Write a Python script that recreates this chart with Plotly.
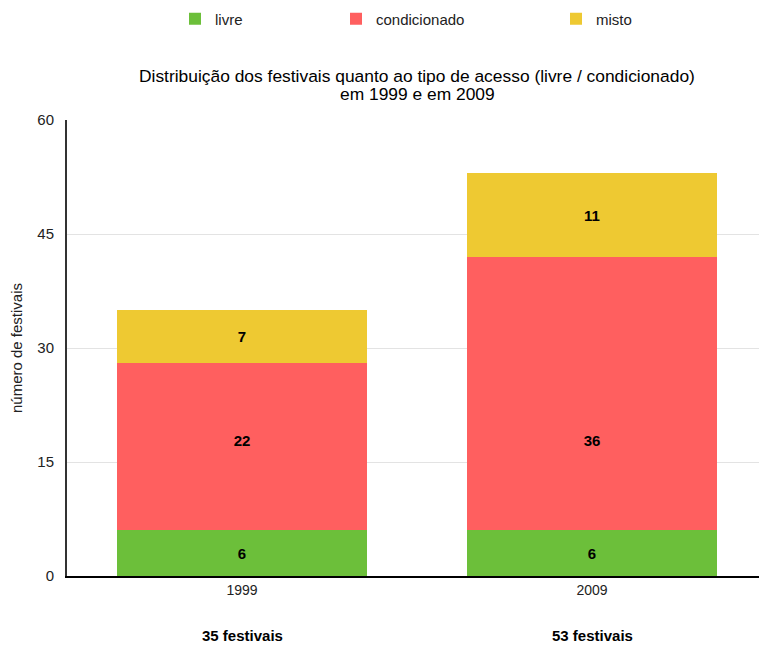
import plotly.graph_objects as go

years = ["1999", "2009"]
livre = [6, 6]
condicionado = [22, 36]
misto = [7, 11]
series_names = ["livre", "condicionado", "misto"]
colors = ["#6CBF3A", "#FF5F5F", "#EEC932"]
y_ticks = [0, 15, 30, 45, 60]
title_lines = ["Distribuição dos festivais quanto ao tipo de acesso (livre / condicionado)",
               "em 1999 e em 2009"]

FONT = "Liberation Sans, Arial, Helvetica, sans-serif"
OFF = 8  # page body margin
PH = 456  # plot height px
PW = 700  # plot width px

fig = go.Figure()
for i, (name, vals, col) in enumerate(zip(series_names, [livre, condicionado, misto], colors)):
    if name == "condicionado":
        # labels sit at a fixed height above the segment base, as in the source
        texts = [f"<b>{v}</b>" + "<br>\u00a0" * 4 for v in vals]
        anchor = "start"
    else:
        texts = [f"<b>{v}</b>" for v in vals]
        anchor = "middle"
    fig.add_trace(go.Bar(
        x=years, y=vals, name=name, marker=dict(color=col, line=dict(width=0)),
        text=texts, texttemplate="%{text}", textposition="inside",
        insidetextanchor=anchor,
        textfont=dict(color="black", size=15, family=FONT),
        legend="legend" if i == 0 else f"legend{i+1}",
        showlegend=True,
        hoverinfo="skip",
    ))

totals = [a + b + c for a, b, c in zip(livre, condicionado, misto)]
for idx, t in enumerate(totals):
    fig.add_annotation(x=idx, xref="x", y=-(635 - 576) / PH, yref="paper", text=f"<b>{t} festivais</b>",
                       showarrow=False, font=dict(size=15, color="black", family=FONT),
                       yanchor="middle")

for line, ypx in zip(title_lines, [76, 94]):
    fig.add_annotation(x=(417 - 67) / PW, xref="paper", y=1 + (120 - ypx) / PH, yref="paper",
                       text=line, showarrow=False, xanchor="center", yanchor="middle",
                       font=dict(size=17.4, color="black", family=FONT))

leg_x = [(190 - 82) / PW, (351 - 82) / PW, (571 - 82) / PW]
leg_common = dict(orientation="h", yanchor="middle", xanchor="left", y=(576 - 19) / PH,
                  font=dict(size=15, color="#222", family=FONT), bgcolor="rgba(0,0,0,0)",
                  itemclick=False)
fig.update_layout(
    width=767 - OFF, height=646 - OFF,
    margin=dict(l=67 - OFF, r=0, t=120 - OFF, b=70, autoexpand=False),
    paper_bgcolor="white", plot_bgcolor="white",
    barmode="stack", bargap=0.284,
    font=dict(family=FONT, size=14, color="#222"),
    legend=dict(x=leg_x[0], **leg_common),
    legend2=dict(x=leg_x[1], **leg_common),
    legend3=dict(x=leg_x[2], **leg_common),
    xaxis=dict(type="category", range=[-0.5, 1.5], showline=True, linecolor="black", linewidth=2,
               ticks="", showgrid=False, tickfont=dict(size=14, color="#222"), zeroline=False),
    yaxis=dict(range=[0, 60], tickvals=y_ticks, showline=True, linecolor="#333", linewidth=2,
               gridcolor="#E3E3E3", zeroline=False, ticks="outside", ticklen=8,
               tickcolor="rgba(0,0,0,0)", tickfont=dict(size=15, color="#222"),
               title=dict(text="número de festivais", font=dict(size=15, color="#222"), standoff=14)),
)

fig.write_html("out.html")
